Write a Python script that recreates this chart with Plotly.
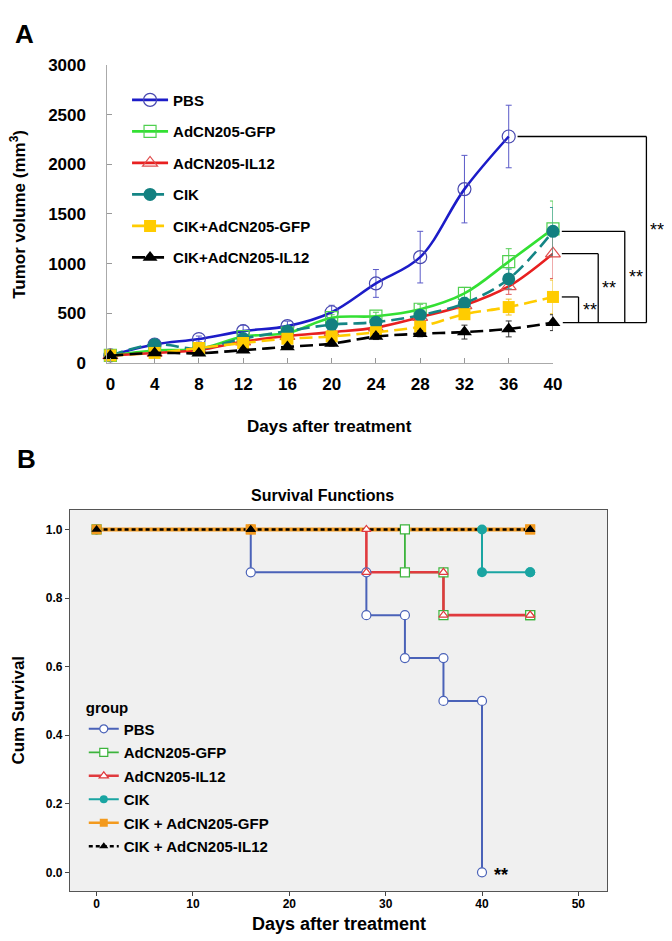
import plotly.graph_objects as go

W, H = 672, 941
FONT = "Liberation Sans, Arial, sans-serif"

# ---------------- Panel A data ----------------
days = [0, 4, 8, 12, 16, 20, 24, 28, 32, 36, 40]
pbs_vol = [75, 185, 240, 320, 370, 510, 800, 1065, 1750, 2280]
pbs_err = [10, 20, 30, 60, 50, 70, 140, 260, 340, 315]
gfp_vol = [75, 125, 140, 265, 300, 455, 470, 540, 700, 1020, 1350]
gfp_err = [10, 20, 20, 30, 30, 30, 40, 50, 60, 130, 280]
il12_vol = [75, 100, 130, 215, 270, 310, 355, 460, 580, 770, 1100]
il12_err = [10, 15, 20, 25, 30, 30, 40, 50, 60, 80, 250]
cik_vol = [75, 185, 145, 245, 320, 385, 410, 480, 600, 845, 1325]
cik_err = [10, 20, 20, 30, 30, 30, 40, 50, 60, 100, 240]
cikgfp_vol = [75, 100, 150, 200, 243, 266, 309, 365, 490, 562, 664]
cikgfp_err = [10, 15, 15, 20, 25, 30, 30, 40, 50, 80, 170]
cikil12_vol = [72, 100, 97, 128, 161, 194, 265, 293, 310, 342, 405]
cikil12_err = [10, 15, 15, 20, 20, 25, 30, 30, 70, 80, 80]
groups_a = ["PBS", "AdCN205-GFP", "AdCN205-IL12", "CIK", "CIK+AdCN205-GFP", "CIK+AdCN205-IL12"]
y_ticks_a = [0, 500, 1000, 1500, 2000, 2500, 3000]

# ---------------- Panel B data ----------------
groups_b = ["PBS", "AdCN205-GFP", "AdCN205-IL12", "CIK", "CIK + AdCN205-GFP", "CIK + AdCN205-IL12"]
surv_times = [
    [0, 16, 28, 32, 36, 40],
    [0, 32, 36, 45],
    [0, 28, 36, 45],
    [0, 40, 45],
    [0, 16, 45],
    [0, 16, 45],
]
surv_vals = [
    [1.0, 0.875, 0.75, 0.625, 0.5, 0.0],
    [1.0, 0.875, 0.75, 0.75],
    [1.0, 0.875, 0.75, 0.75],
    [1.0, 0.875, 0.875],
    [1.0, 1.0, 1.0],
    [1.0, 1.0, 1.0],
]
x_ticks_b = [0, 10, 20, 30, 40, 50]
y_ticks_b = [0.0, 0.2, 0.4, 0.6, 0.8, 1.0]

# ---------------- geometry ----------------
xa_px = (99, 552)
ya_px = (353, 49)
xa_range = [-0.27, 40]
ya_range = [0, 3000]
xb_px = (61, 607)
yb_px = (892, 503)
xb_range = [-2.76, 52.98]
yb_range = [-0.0543, 1.0571]


def px(x):
    return x / W


def py(y):
    return 1 - y / H


def a_xpx(d):
    return xa_px[0] + (d - xa_range[0]) / (xa_range[1] - xa_range[0]) * (xa_px[1] - xa_px[0])


def a_ypaper(v):
    return py(ya_px[0]) + (v - ya_range[0]) / (ya_range[1] - ya_range[0]) * (py(ya_px[1]) - py(ya_px[0]))


fig = go.Figure()

series_a = [
    (pbs_vol, pbs_err, dict(color="#1c1cc8", dash="solid"), dict(symbol="circle-open", color="#4848b0", size=13, line=dict(width=1.2)), "#5a5ac8"),
    (gfp_vol, gfp_err, dict(color="#33e033", dash="solid"), dict(symbol="square-open", color="#4fd04f", size=12, line=dict(width=1.2)), "#55cc55"),
    (il12_vol, il12_err, dict(color="#e82020", dash="solid"), dict(symbol="triangle-up-open", color="#e05050", size=13, line=dict(width=1.2)), "#e06060"),
    (cik_vol, cik_err, dict(color="#148585", dash="13px,6px"), dict(symbol="circle", color="#138080", size=13), "#3a9a9a"),
    (cikgfp_vol, cikgfp_err, dict(color="#ffcc00", dash="13px,6px"), dict(symbol="square", color="#ffcc00", size=12), "#f0c020"),
    (cikil12_vol, cikil12_err, dict(color="#000000", dash="13px,6px"), dict(symbol="triangle-up", color="#000000", size=13), "#333333"),
]

for name, (vol, err, line, marker, ecol) in zip(groups_a, series_a):
    fig.add_trace(go.Scatter(
        x=days[:len(vol)], y=vol, name=name, mode="lines+markers",
        line=dict(width=2.6, shape="spline", smoothing=1.0, **line),
        marker=marker,
        error_y=dict(type="data", array=err, color=ecol, thickness=1, width=3),
        xaxis="x", yaxis="y", legend="legend", legendgroup=name,
        cliponaxis=False,
    ))

# ---------------- Panel B traces ----------------
colors_b = ["#4a62b8", "#3cb43c", "#e03a3e", "#1aa5a2", "#f39a1e", "#000000"]
markers_b = [
    dict(symbol="circle", color="white", size=9, line=dict(color="#4a62b8", width=1.2)),
    dict(symbol="square", color="white", size=9, line=dict(color="#3cb43c", width=1.2)),
    dict(symbol="triangle-up", color="white", size=8, line=dict(color="#e03a3e", width=1.2)),
    dict(symbol="circle", color="#1aa5a2", size=10),
    dict(symbol="square", color="#f39a1e", size=10),
    dict(symbol="triangle-up", color="#000000", size=9),
]
dashes_b = ["solid", "solid", "solid", "solid", "solid", "4px,3px"]
widths_b = [2, 1.8, 2.6, 2, 4, 2.5]


def step_points(times, vals):
    xs, ys = [times[0]], [vals[0]]
    for i in range(1, len(times)):
        xs += [times[i], times[i]]
        ys += [vals[i - 1], vals[i]]
    return xs, ys


pts = [step_points(t, v) for t, v in zip(surv_times, surv_vals)]
for (xs, ys), c, d, w in zip(pts, colors_b, dashes_b, widths_b):
    fig.add_trace(go.Scatter(x=xs, y=ys, mode="lines", line=dict(color=c, dash=d, width=w),
                             showlegend=False, xaxis="x2", yaxis="y2", hoverinfo="skip"))
for (xs, ys), m in zip(pts, markers_b):
    fig.add_trace(go.Scatter(x=xs, y=ys, mode="markers", marker=m, showlegend=False,
                             xaxis="x2", yaxis="y2", cliponaxis=False))
for name, c, d, w, m in zip(groups_b, colors_b, dashes_b, widths_b, markers_b):
    fig.add_trace(go.Scatter(x=[None], y=[None], mode="lines+markers", name=name,
                             line=dict(color=c, dash=d, width=min(w, 2.5)),
                             marker=dict(m, size=8), xaxis="x2", yaxis="y2",
                             legend="legend2", legendgroup="b" + name))

# ---------------- brackets ----------------
shapes = []
shapes.append(dict(type="rect", xref="paper", yref="paper", x0=px(xb_px[0]), x1=px(xb_px[1]),
                   y0=py(yb_px[0]), y1=py(yb_px[1]), fillcolor="#f0f0f0", line=dict(width=0), layer="below"))
bottom_v = cikil12_vol[-1]
bracket_tops = [
    (pbs_vol[-1], days[len(pbs_vol) - 1], 647),
    (cik_vol[-1], days[-1], 625),
    (il12_vol[-1], days[-1], 598),
    (cikgfp_vol[-1], days[-1], 578),
]
start_b = a_xpx(days[-1]) + 10
annotations = []
for v, d, xv in bracket_tops:
    xs = a_xpx(d) + 9
    shapes.append(dict(type="line", xref="paper", yref="paper", x0=px(xs), x1=px(xv),
                       y0=a_ypaper(v), y1=a_ypaper(v), line=dict(color="black", width=1.3)))
    shapes.append(dict(type="line", xref="paper", yref="paper", x0=px(xv), x1=px(xv),
                       y0=a_ypaper(v), y1=a_ypaper(bottom_v), line=dict(color="black", width=1.3)))
    annotations.append(dict(text="**", xref="paper", yref="paper", x=px(xv + 2), xanchor="left",
                            y=(a_ypaper(v) + a_ypaper(bottom_v)) / 2, yanchor="middle",
                            showarrow=False, font=dict(size=18, family=FONT, color="black")))
shapes.append(dict(type="line", xref="paper", yref="paper", x0=px(start_b), x1=px(647),
                   y0=a_ypaper(bottom_v), y1=a_ypaper(bottom_v), line=dict(color="black", width=1.3)))

bold = dict(family=FONT, color="black", weight="bold")
annotations += [
    dict(text="A", x=px(15), y=py(17), font=dict(bold, size=26)),
    dict(text="B", x=px(17), y=py(451), font=dict(bold, size=26)),
    dict(text="Tumor volume (mm<sup>3</sup>)", x=px(8), y=py(201), textangle=-90, font=dict(bold, size=17)),
    dict(text="Days after treatment", x=px(325), y=py(418), font=dict(bold, size=17)),
    dict(text="Survival Functions", x=px(318), y=py(488), font=dict(bold, size=16)),
    dict(text="Cum Survival", x=px(9), y=py(707), textangle=-90, font=dict(bold, size=17)),
    dict(text="Days after treatment", x=px(334), y=py(926), font=dict(bold, size=18)),
    dict(text="**", x=surv_times[0][-1] + 1, y=surv_vals[0][-1], xref="x2", yref="y2", xanchor="left",
         yanchor="middle", yshift=-3, font=dict(bold, size=18)),
]
for a in annotations:
    a.setdefault("xref", "paper")
    a.setdefault("yref", "paper")
    a.setdefault("xanchor", "center")
    a.setdefault("yanchor", "middle")
    a.setdefault("showarrow", False)

fig.update_layout(
    width=W, height=H, margin=dict(l=0, r=0, t=0, b=0),
    paper_bgcolor="white", plot_bgcolor="rgba(0,0,0,0)",
    font=dict(family=FONT, color="black"),
    shapes=shapes, annotations=annotations,
    xaxis=dict(domain=[px(xa_px[0]), px(xa_px[1])], anchor="y", range=xa_range,
               tickvals=days, ticks="inside", ticklen=5, tickcolor="#999999",
               showline=True, linecolor="#aaaaaa", linewidth=1, showgrid=False, zeroline=False,
               tickfont=dict(bold, size=17), ticklabelstandoff=6),
    yaxis=dict(domain=[py(ya_px[0]), py(ya_px[1])], anchor="x", range=ya_range,
               tickvals=y_ticks_a, ticks="inside", ticklen=5, tickcolor="#999999",
               showline=True, linecolor="#aaaaaa", linewidth=1, showgrid=False, zeroline=False,
               tickfont=dict(bold, size=17), ticklabelstandoff=17),
    xaxis2=dict(domain=[px(xb_px[0]), px(xb_px[1])], anchor="y2", range=xb_range,
                tickvals=x_ticks_b, ticks="outside", ticklen=4, tickcolor="#444444",
                showline=True, mirror=True, linecolor="#555555", linewidth=1.2,
                showgrid=False, zeroline=False, tickfont=dict(bold, size=12), ticklabelstandoff=-2),
    yaxis2=dict(domain=[py(yb_px[0]), py(yb_px[1])], anchor="x2", range=yb_range,
                tickvals=y_ticks_b, tickformat=".1f", ticks="outside", ticklen=4, tickcolor="#444444",
                showline=True, mirror=True, linecolor="#555555", linewidth=1.2,
                showgrid=False, zeroline=False, tickfont=dict(bold, size=12)),
    legend=dict(x=px(119), y=py(68), xanchor="left", yanchor="top", bgcolor="rgba(0,0,0,0)",
                font=dict(bold, size=15), tracegroupgap=9, itemwidth=36, traceorder="grouped"),
    legend2=dict(x=px(75), y=py(690), xanchor="left", yanchor="top", bgcolor="rgba(0,0,0,0)",
                 font=dict(bold, size=15), tracegroupgap=1, itemwidth=30, traceorder="grouped",
                 title=dict(text="group", font=dict(bold, size=15))),
)

fig.write_html("out.html")
